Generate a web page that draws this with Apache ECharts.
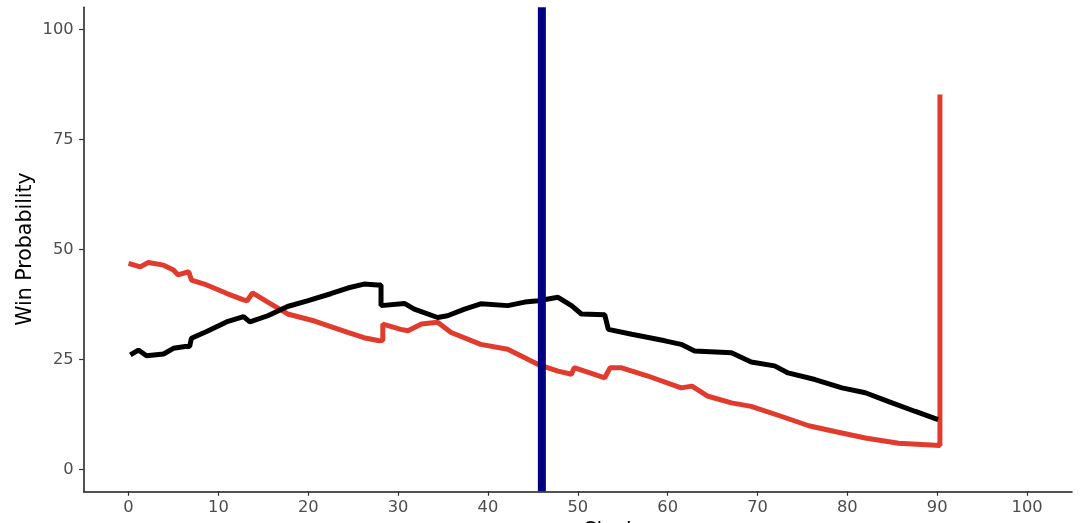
<!DOCTYPE html>
<html>
<head>
<meta charset="utf-8">
<script src="https://cdn.jsdelivr.net/npm/echarts@6/dist/echarts.min.js"></script>
<style>
html,body{margin:0;padding:0;background:#fff;}
#chart{width:1086px;height:523px;}
</style>
</head>
<body>
<div id="chart"></div>
<script>
// Tick labels
var xTicks = [0, 10, 20, 30, 40, 50, 60, 70, 80, 90, 100];
var yTicks = [0, 25, 50, 75, 100];

// Reference clock marker
var markerClock = 46;

// Red team win probability: [clock, value]
var redClock = [0, 1.3, 2.2, 3.9, 5.0, 5.5, 6.7, 7.0, 8.7, 10.9, 12.8, 13.2, 13.8, 15.5, 17.7, 20.7, 24.4, 26.2, 27.9, 28.3, 28.3, 30.3, 31.1, 32.6, 34.4, 35.9, 39.2, 42.2, 45.6, 47.8, 49.3, 49.6, 53.0, 53.6, 54.8, 57.8, 61.5, 62.7, 64.5, 67.1, 69.3, 72.7, 75.7, 78.6, 82.0, 85.7, 90.3, 90.3];
var redValue = [46.8, 46.0, 47.0, 46.4, 45.3, 44.2, 44.9, 43.0, 41.9, 40.0, 38.5, 38.3, 40.1, 38.0, 35.3, 33.7, 31.1, 29.9, 29.2, 29.3, 33.0, 31.8, 31.5, 33.0, 33.4, 31.1, 28.4, 27.3, 23.8, 22.3, 21.6, 23.1, 20.8, 23.1, 23.1, 21.2, 18.5, 18.9, 16.6, 15.1, 14.3, 12.0, 9.9, 8.6, 7.1, 5.9, 5.4, 85.2];

// Black team win probability: [clock, value]
var blackClock = [0.2, 1.1, 2.0, 3.9, 5.0, 6.3, 6.8, 7.0, 8.7, 10.9, 12.8, 13.5, 15.5, 17.7, 19.9, 22.5, 24.4, 26.2, 27.7, 28.1, 28.1, 30.7, 31.8, 34.4, 35.5, 37.4, 39.2, 42.2, 44.1, 45.6, 47.8, 49.3, 50.4, 53.0, 53.4, 56.0, 59.7, 61.5, 63.0, 67.1, 69.3, 71.9, 73.4, 76.4, 79.4, 82.0, 84.6, 87.5, 90.1];
var blackValue = [26.0, 27.1, 25.8, 26.2, 27.5, 27.9, 27.9, 29.8, 31.3, 33.5, 34.7, 33.5, 34.9, 37.0, 38.3, 39.9, 41.2, 42.1, 41.9, 41.9, 37.2, 37.7, 36.4, 34.5, 34.9, 36.4, 37.6, 37.2, 38.0, 38.3, 39.1, 37.2, 35.3, 35.1, 31.8, 30.7, 29.2, 28.4, 26.9, 26.5, 24.4, 23.5, 21.9, 20.4, 18.5, 17.4, 15.4, 13.2, 11.3];

function zip(a, b) { return a.map(function (v, i) { return [v, b[i]]; }); }

var chart = echarts.init(document.getElementById('chart'), null, {renderer: 'canvas'});
var FONT = 'DejaVu Sans';
var xMin = -5, xMax = 105, yMin = -5, yMax = 105;

chart.setOption({
  animation: false,
  backgroundColor: '#ffffff',
  grid: {left: 83.6, right: 14, top: 7.3, bottom: 31.7},
  xAxis: {
    type: 'value', min: xMin, max: xMax,
    axisLine: {show: true, onZero: false, lineStyle: {color: '#1a1a1a', width: 1.5}},
    axisTick: {show: true, length: 4.5, customValues: xTicks, lineStyle: {color: '#333', width: 1.2}},
    axisLabel: {customValues: xTicks, color: '#4d4d4d', fontFamily: FONT, fontSize: 16.3, margin: 8},
    splitLine: {show: false}
  },
  yAxis: {
    type: 'value', min: yMin, max: yMax,
    axisLine: {show: true, onZero: false, lineStyle: {color: '#1a1a1a', width: 1.5}},
    axisTick: {show: true, length: 4.5, customValues: yTicks, lineStyle: {color: '#333', width: 1.2}},
    axisLabel: {customValues: yTicks, color: '#4d4d4d', fontFamily: FONT, fontSize: 16.3, margin: 10},
    splitLine: {show: false}
  },
  graphic: [
    {type: 'text', x: 26, y: 249, rotation: Math.PI / 2,
     style: {text: 'Win Probability', fill: '#000', font: '20.5px "DejaVu Sans"', textAlign: 'center', textVerticalAlign: 'middle'}},
    {type: 'text', x: 610, y: 521,
     style: {text: 'Clock', fill: '#000', font: '20.5px "DejaVu Sans"', textAlign: 'center', textVerticalAlign: 'top'}}
  ],
  series: [
    {type: 'line', name: 'Red', data: zip(redClock, redValue), showSymbol: false,
     lineStyle: {color: '#E13B2E', width: 5}, z: 2},
    {type: 'line', name: 'Black', data: zip(blackClock, blackValue), showSymbol: false,
     lineStyle: {color: '#000000', width: 5}, z: 3},
    {type: 'line', name: 'Marker', data: [[markerClock, yMin], [markerClock, yMax]], showSymbol: false,
     lineStyle: {color: '#000080', width: 8}, z: 4}
  ]
});
</script>
</body>
</html>
